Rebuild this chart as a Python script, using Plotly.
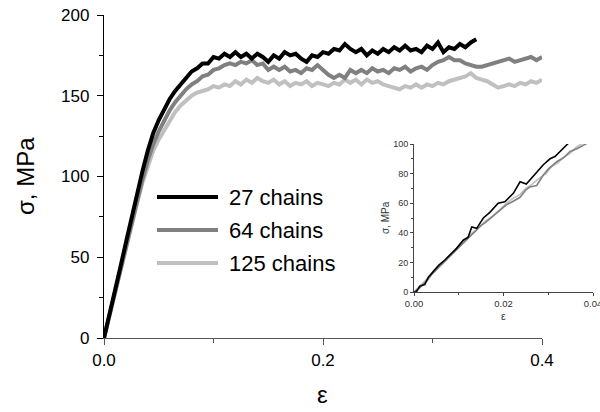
import plotly.graph_objects as go

# ---------------- data ----------------
strain = [0.000, 0.005, 0.010, 0.015, 0.020, 0.025, 0.030, 0.035, 0.040, 0.045,
          0.050, 0.055, 0.060, 0.065, 0.070, 0.075, 0.080, 0.085, 0.090, 0.095,
          0.100, 0.105, 0.110, 0.115, 0.120, 0.125, 0.130, 0.135, 0.140, 0.145,
          0.150, 0.155, 0.160, 0.165, 0.170, 0.175, 0.180, 0.185, 0.190, 0.195,
          0.200, 0.205, 0.210, 0.215, 0.220, 0.225, 0.230, 0.235, 0.240, 0.245,
          0.250, 0.255, 0.260, 0.265, 0.270, 0.275, 0.280, 0.285, 0.290, 0.295,
          0.300, 0.305, 0.310, 0.315, 0.320, 0.325, 0.330, 0.335, 0.340, 0.345,
          0.350, 0.355, 0.360, 0.365, 0.370, 0.375, 0.380, 0.385, 0.390, 0.395,
          0.400]

stress_27 = [0, 14, 29, 44, 59, 74, 89, 103, 116, 127,
             135, 142, 148, 153, 157, 161, 165, 167, 170, 170,
             174, 173, 176, 174, 177, 174, 176, 173, 176, 174,
             171, 175, 173, 177, 175, 176, 173, 171, 175, 174,
             177, 176, 179, 178, 182, 179, 177, 179, 175, 178,
             176, 179, 177, 180, 178, 181, 178, 179, 177, 181,
             179, 183, 177, 180, 179, 182, 180, 183, 185]

stress_64 = [0, 14, 29, 43, 57, 71, 85, 98, 110, 120,
             128, 135, 141, 146, 150, 154, 157, 159, 162, 163,
             166, 167, 169, 170, 169, 171, 170, 172, 169, 170,
             166, 168, 166, 168, 165, 166, 164, 167, 166, 169,
             166, 163, 161, 163, 161, 166, 164, 166, 164, 167,
             165, 166, 164, 167, 166, 168, 165, 167, 168, 166,
             169, 171, 172, 174, 172, 172, 170, 169, 168, 168,
             169, 170, 171, 172, 173, 171, 172, 173, 174, 172,
             174]

stress_125 = [0, 14, 29, 43, 57, 70, 83, 96, 107, 116,
              123, 129, 135, 140, 144, 147, 150, 152, 153, 154,
              156, 155, 157, 156, 159, 157, 160, 158, 161, 159,
              158, 160, 157, 159, 156, 158, 157, 159, 156, 158,
              157, 156, 158, 157, 160, 158, 160, 157, 160, 158,
              159, 157, 156, 155, 154, 156, 155, 157, 155, 157,
              156, 158, 157, 159, 160, 161, 162, 164, 161, 160,
              159, 157, 155, 156, 157, 156, 158, 157, 159, 158,
              160]

# inset (small strain) data
inset_strain_27 = [0.0, 0.0005, 0.0013, 0.0024, 0.0032, 0.0044, 0.0055, 0.0069, 0.0080,
                   0.0095, 0.0110, 0.0121, 0.0129, 0.0140, 0.0155, 0.0170, 0.0188,
                   0.0203, 0.0222, 0.0237, 0.0251, 0.0274, 0.0289, 0.0304, 0.0315,
                   0.0341, 0.0350]
inset_stress_27 = [0, 0, 4, 5, 10, 14, 18, 21.6, 25,
                   29.5, 35, 37, 44, 43, 50, 54, 60,
                   61, 66.7, 74.5, 73, 81, 86, 90, 91.5,
                   99.3, 102]

inset_strain_64 = [0.0, 0.001, 0.002, 0.003, 0.004, 0.005, 0.006, 0.007, 0.008, 0.009,
                   0.010, 0.011, 0.012, 0.013, 0.014, 0.015, 0.016, 0.0175, 0.0185,
                   0.0195, 0.0207, 0.022, 0.0237, 0.025, 0.0259, 0.0274, 0.0289,
                   0.030, 0.0319, 0.0335, 0.0349, 0.0365, 0.0382, 0.039]
inset_stress_64 = [0, 2, 5, 8, 12, 15, 18, 21, 24, 27,
                   30, 33, 36, 39, 42, 45, 47, 51, 53,
                   56, 59, 61, 64, 69, 71, 72, 79,
                   83, 88, 91, 95, 97, 100, 101]

inset_strain_125 = [0.0, 0.001, 0.002, 0.003, 0.004, 0.005, 0.006, 0.007, 0.008, 0.009,
                    0.010, 0.011, 0.012, 0.013, 0.014, 0.015, 0.016, 0.0175, 0.0185,
                    0.0195, 0.0207, 0.022, 0.0237, 0.025, 0.0265, 0.028, 0.0295,
                    0.0308, 0.032, 0.0335, 0.035, 0.0363, 0.0375, 0.038]
inset_stress_125 = [0, 3, 6, 9, 12, 15, 19, 22, 25, 28,
                    31, 34, 37, 40, 42, 45, 48, 51, 54,
                    57, 60, 63, 66, 70, 73, 77, 80,
                    85, 87, 91, 94, 98, 100, 101]

series_names = ["27 chains", "64 chains", "125 chains"]
series_colors = ["#000000", "#808080", "#c0c0c0"]

x_ticks = [0.0, 0.2, 0.4]
y_ticks = [0, 50, 100, 150, 200]

FONT = "Liberation Sans, Arial, sans-serif"

fig = go.Figure()

main_data = [(strain[:len(stress_27)], stress_27),
             (strain[:len(stress_64)], stress_64),
             (strain[:len(stress_125)], stress_125)]
inset_data = [(inset_strain_27, inset_stress_27),
              (inset_strain_64, inset_stress_64),
              (inset_strain_125, inset_stress_125)]

# draw light first so black is on top
for i in [2, 1, 0]:
    xs, ys = main_data[i]
    fig.add_trace(go.Scatter(x=xs, y=ys, mode="lines", name=series_names[i],
                             line=dict(color=series_colors[i], width=4),
                             xaxis="x", yaxis="y", showlegend=False))
for i in [2, 1, 0]:
    xs, ys = inset_data[i]
    fig.add_trace(go.Scatter(x=xs, y=ys, mode="lines", name=series_names[i],
                             line=dict(color=series_colors[i], width=1.6),
                             xaxis="x2", yaxis="y2", showlegend=False, cliponaxis=True))

W, H = 600, 412

def px(x):
    return x / W

def py(y):
    return 1 - y / H

layout = dict(
    width=W, height=H,
    margin=dict(l=0, r=0, t=0, b=0, autoexpand=False),
    paper_bgcolor="white", plot_bgcolor="rgba(0,0,0,0)",
    font=dict(family=FONT, color="#000"),
    showlegend=False,
    xaxis=dict(domain=[px(104), px(542)], range=[0, 0.4], tickvals=x_ticks,
               ticktext=["%.1f" % v for v in x_ticks], automargin=False,
               showgrid=False, zeroline=False, showline=True, linecolor="#555",
               linewidth=1.3, ticks="outside", ticklen=6, tickcolor="#555",
               tickfont=dict(size=17, family=FONT, color="#000"),
               minor=dict(tickvals=[0.1, 0.3], ticks="outside", ticklen=4, tickcolor="#555"),
               anchor="y"),
    yaxis=dict(domain=[py(338), py(15)], range=[0, 200], tickvals=y_ticks, automargin=False,
               showgrid=False, zeroline=False, showline=True, linecolor="#000",
               linewidth=1.3, ticks="outside", ticklen=6, tickcolor="#000",
               ticklabelstandoff=4,
               tickfont=dict(size=17, family=FONT, color="#000"),
               minor=dict(tickvals=[25, 75, 125, 175], ticks="outside", ticklen=4, tickcolor="#000"),
               anchor="x"),
    xaxis2=dict(domain=[px(414), px(593)], range=[0, 0.04], tickvals=[0.0, 0.02, 0.04],
                ticktext=["0.00", "0.02", "0.04"], automargin=False,
                ticklabeloverflow="allow",
                showgrid=False, zeroline=False, showline=True, linecolor="#444",
                linewidth=1, ticks="outside", ticklen=3, tickcolor="#444",
                tickfont=dict(size=9.5, family=FONT, color="#333"),
                minor=dict(tickvals=[0.01, 0.03], ticks="outside", ticklen=2, tickcolor="#444"),
                anchor="y2"),
    yaxis2=dict(domain=[py(292), py(144)], range=[0, 100], tickvals=[0, 20, 40, 60, 80, 100],
                automargin=False,
                showgrid=False, zeroline=False, showline=True, linecolor="#444",
                linewidth=1, ticks="outside", ticklen=3, tickcolor="#444",
                tickfont=dict(size=9, family=FONT, color="#333"),
                minor=dict(tickvals=[10, 30, 50, 70, 90], ticks="outside", ticklen=2, tickcolor="#444"),
                anchor="x2"),
)
fig.update_layout(**layout)

annotations = [
    dict(text="σ, MPa", x=px(25), y=py(176), xref="paper", yref="paper",
         xanchor="center", yanchor="middle",
         textangle=-90, showarrow=False, font=dict(size=24, family=FONT, color="#000")),
    dict(text="ε", x=px(322), y=py(394), xref="paper", yref="paper",
         xanchor="center", yanchor="middle",
         showarrow=False, font=dict(size=24, family=FONT, color="#000")),
    dict(text="σ, MPa", x=px(385), y=py(218), xref="paper", yref="paper",
         xanchor="center", yanchor="middle",
         textangle=-90, showarrow=False, font=dict(size=10, family=FONT, color="#333")),
    dict(text="ε", x=px(503), y=py(316), xref="paper", yref="paper",
         xanchor="center", yanchor="middle",
         showarrow=False, font=dict(size=10.5, family=FONT, color="#333")),
]
shapes = []
legend_rows = [197, 230, 263]
for i, name in enumerate(series_names):
    yy = py(legend_rows[i])
    shapes.append(dict(type="line", xref="paper", yref="paper",
                       x0=px(157), x1=px(218), y0=yy, y1=yy,
                       line=dict(color=series_colors[i], width=4)))
    annotations.append(dict(text=name, x=px(227), y=yy, xref="paper", yref="paper",
                            xanchor="left", yanchor="middle", showarrow=False,
                            font=dict(size=22, family=FONT, color="#000")))

fig.update_layout(annotations=annotations, shapes=shapes)

fig.write_html("out.html")
